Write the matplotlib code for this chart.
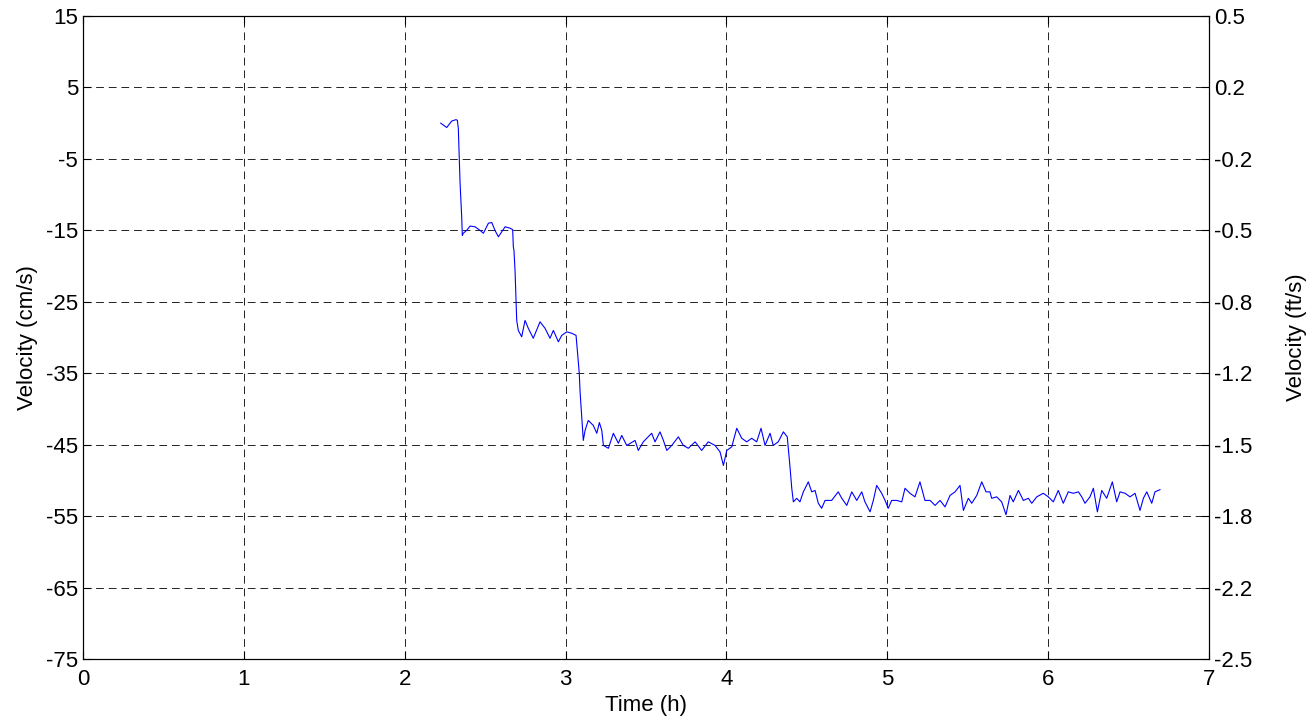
import numpy as np
import matplotlib.pyplot as plt

plt.rcParams['font.family'] = ['Liberation Sans', 'DejaVu Sans']
plt.rcParams['axes.unicode_minus'] = False

# measured velocity record: time (h) and velocity (cm/s)
time_h = [2.224, 2.261, 2.292, 2.319, 2.327, 2.333, 2.344, 2.354, 2.358, 2.364,
          2.385, 2.406, 2.437, 2.468, 2.489, 2.520, 2.541, 2.561, 2.582, 2.603,
          2.624, 2.655, 2.671, 2.675, 2.679, 2.686, 2.696, 2.706, 2.727, 2.748,
          2.768, 2.799, 2.841, 2.872, 2.903, 2.924, 2.955, 2.976, 3.007, 3.038,
          3.065, 3.073, 3.085, 3.090, 3.100, 3.110, 3.121, 3.141, 3.172, 3.194,
          3.210, 3.225, 3.235, 3.266, 3.297, 3.328, 3.349, 3.380, 3.432, 3.452,
          3.483, 3.535, 3.556, 3.587, 3.608, 3.629, 3.660, 3.701, 3.732, 3.763,
          3.805, 3.846, 3.887, 3.929, 3.960, 3.981, 4.002, 4.033, 4.064, 4.095,
          4.126, 4.157, 4.188, 4.215, 4.240, 4.271, 4.291, 4.322, 4.354, 4.378,
          4.395, 4.406, 4.416, 4.437, 4.457, 4.478, 4.509, 4.530, 4.551, 4.571,
          4.592, 4.613, 4.654, 4.695, 4.717, 4.748, 4.779, 4.810, 4.841, 4.861,
          4.893, 4.913, 4.934, 4.965, 4.986, 5.006, 5.027, 5.059, 5.090, 5.110,
          5.141, 5.172, 5.203, 5.234, 5.266, 5.297, 5.328, 5.359, 5.390, 5.421,
          5.452, 5.473, 5.504, 5.525, 5.556, 5.587, 5.614, 5.638, 5.649, 5.680,
          5.711, 5.738, 5.763, 5.783, 5.815, 5.846, 5.877, 5.898, 5.929, 5.970,
          6.001, 6.032, 6.063, 6.094, 6.125, 6.156, 6.188, 6.209, 6.229, 6.260,
          6.281, 6.306, 6.333, 6.364, 6.399, 6.426, 6.447, 6.478, 6.509, 6.540,
          6.571, 6.592, 6.613, 6.644, 6.664, 6.695]
vel_cms = [-0.0, -0.6, 0.3, 0.5, 0.4, -0.7, -8.4, -13.1, -15.7, -15.4,
           -15.0, -14.4, -14.5, -15.0, -15.4, -14.0, -13.9, -15.0, -15.9, -15.2,
           -14.5, -14.7, -14.9, -17.3, -17.8, -20.8, -27.6, -29.0, -29.9, -27.6,
           -28.7, -30.1, -27.8, -28.7, -30.1, -29.0, -30.6, -29.7, -29.2, -29.4,
           -29.7, -31.8, -35.0, -37.6, -41.1, -44.4, -43.0, -41.6, -42.3, -43.4,
           -41.9, -43.0, -45.1, -45.5, -43.4, -44.8, -43.7, -45.1, -44.4, -45.8,
           -44.6, -43.4, -44.6, -43.2, -44.4, -45.8, -45.1, -43.9, -45.1, -45.5,
           -44.6, -45.8, -44.6, -45.1, -46.0, -47.9, -45.8, -45.3, -42.7, -44.1,
           -44.6, -44.1, -44.6, -42.7, -45.1, -43.4, -45.1, -44.6, -43.2, -43.9,
           -48.1, -51.1, -53.0, -52.5, -53.0, -51.6, -50.2, -51.6, -51.4, -53.2,
           -53.9, -52.8, -52.8, -51.6, -52.5, -53.5, -51.6, -52.8, -51.6, -53.0,
           -54.4, -52.8, -50.7, -51.8, -52.8, -53.9, -52.8, -52.8, -53.0, -51.1,
           -51.8, -52.3, -50.2, -52.8, -52.8, -53.5, -52.8, -53.7, -52.1, -51.6,
           -50.7, -54.2, -52.5, -53.2, -52.1, -50.2, -51.6, -51.6, -52.5, -52.3,
           -53.0, -54.8, -52.1, -53.0, -51.4, -52.8, -52.5, -53.2, -52.3, -51.8,
           -52.3, -53.0, -51.4, -53.2, -51.6, -51.8, -51.6, -52.3, -53.2, -52.3,
           -51.1, -54.4, -51.4, -52.5, -50.2, -53.0, -51.6, -51.8, -52.3, -51.8,
           -54.2, -52.5, -51.6, -53.2, -51.6, -51.3]

x_ticks = [0, 1, 2, 3, 4, 5, 6, 7]
cm_ticks = [15, 5, -5, -15, -25, -35, -45, -55, -65, -75]

fs = 16
grid_style = dict(color='#222222', linestyle=(0, (8, 5)), linewidth=0.7)

fig = plt.figure(figsize=(13.16, 7.19), dpi=100)
ax = fig.add_axes([0.0631, 0.0834, 0.8556, 0.8943])

ax.plot(time_h, vel_cms, color='#0000ff', lw=0.8)
ax.set_xlim(0, 7)
ax.set_ylim(-75, 15)
ax.set_xticks(x_ticks)
ax.set_yticks(cm_ticks)
ax.grid(True, **grid_style)
ax.tick_params(direction='in', length=6, labelsize=fs, top=True)
ax.tick_params(axis='x', pad=7)
ax.set_xlabel('Time (h)', fontsize=fs, labelpad=4)
ax.set_ylabel('Velocity (cm/s)', fontsize=fs, labelpad=6)

# right axis in ft/s, same span as the cm/s axis
ax2 = ax.twinx()
ax2.set_ylim(-2.5, 0.5)
ft_ticks = np.linspace(-2.5, 0.5, 10)
ax2.set_yticks(ft_ticks)
ax2.set_yticklabels(['%.1f' % v for v in ft_ticks])
ax2.tick_params(direction='in', length=6, labelsize=fs)
ax2.set_ylabel('Velocity (ft/s)', fontsize=fs, labelpad=24)

for a in (ax, ax2):
    for s in a.spines.values():
        s.set_linewidth(0.8)

fig.savefig('out.png', dpi=100)
